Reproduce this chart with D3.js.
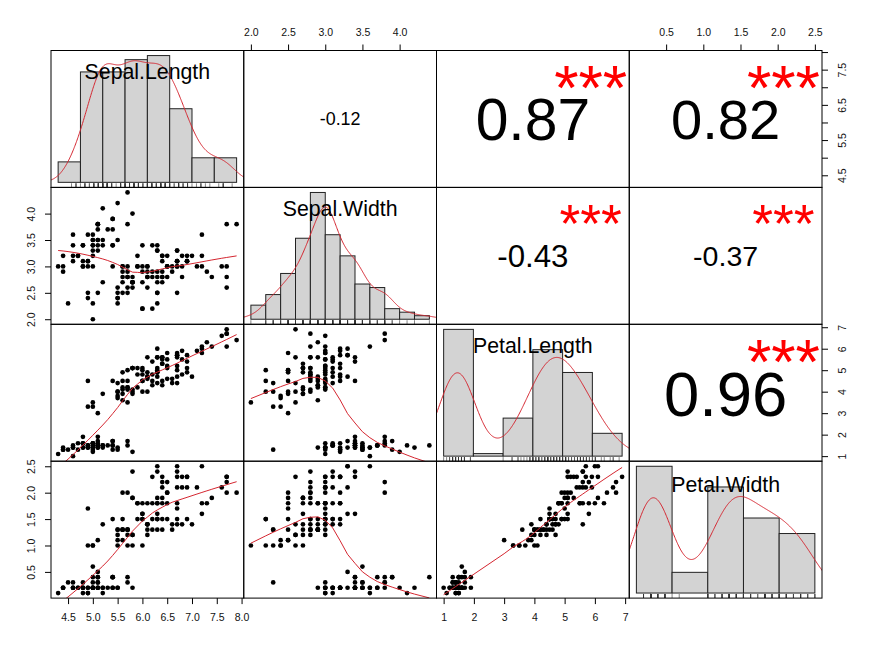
<!DOCTYPE html>
<html>
<head>
<meta charset="utf-8">
<script src="https://cdn.jsdelivr.net/npm/d3@7"></script>
<style>
  body { margin: 0; background: #fff; }
  text { font-family: "Liberation Sans", Arial, Helvetica, sans-serif; }
</style>
</head>
<body>
<div class="canva"></div>
<script>
// iris measurements (setosa, versicolor, virginica - 50 rows each)
const varNames = ["Sepal.Length", "Sepal.Width", "Petal.Length", "Petal.Width"];

const sepalLength = [
  5.1,4.9,4.7,4.6,5.0,5.4,4.6,5.0,4.4,4.9, 5.4,4.8,4.8,4.3,5.8,5.7,5.4,5.1,5.7,5.1,
  5.4,5.1,4.6,5.1,4.8,5.0,5.0,5.2,5.2,4.7, 4.8,5.4,5.2,5.5,4.9,5.0,5.5,4.9,4.4,5.1,
  5.0,4.5,4.4,5.0,5.1,4.8,5.1,4.6,5.3,5.0,
  7.0,6.4,6.9,5.5,6.5,5.7,6.3,4.9,6.6,5.2, 5.0,5.9,6.0,6.1,5.6,6.7,5.6,5.8,6.2,5.6,
  5.9,6.1,6.3,6.1,6.4,6.6,6.8,6.7,6.0,5.7, 5.5,5.5,5.8,6.0,5.4,6.0,6.7,6.3,5.6,5.5,
  5.5,6.1,5.8,5.0,5.6,5.7,5.7,6.2,5.1,5.7,
  6.3,5.8,7.1,6.3,6.5,7.6,4.9,7.3,6.7,7.2, 6.5,6.4,6.8,5.7,5.8,6.4,6.5,7.7,7.7,6.0,
  6.9,5.6,7.7,6.3,6.7,7.2,6.2,6.1,6.4,7.2, 7.4,7.9,6.4,6.3,6.1,7.7,6.3,6.4,6.0,6.9,
  6.7,6.9,5.8,6.8,6.7,6.7,6.3,6.5,6.2,5.9
];
const sepalWidth = [
  3.5,3.0,3.2,3.1,3.6,3.9,3.4,3.4,2.9,3.1, 3.7,3.4,3.0,3.0,4.0,4.4,3.9,3.5,3.8,3.8,
  3.4,3.7,3.6,3.3,3.4,3.0,3.4,3.5,3.4,3.2, 3.1,3.4,4.1,4.2,3.1,3.2,3.5,3.6,3.0,3.4,
  3.5,2.3,3.2,3.5,3.8,3.0,3.8,3.2,3.7,3.3,
  3.2,3.2,3.1,2.3,2.8,2.8,3.3,2.4,2.9,2.7, 2.0,3.0,2.2,2.9,2.9,3.1,3.0,2.7,2.2,2.5,
  3.2,2.8,2.5,2.8,2.9,3.0,2.8,3.0,2.9,2.6, 2.4,2.4,2.7,2.7,3.0,3.4,3.1,2.3,3.0,2.5,
  2.6,3.0,2.6,2.3,2.7,3.0,2.9,2.9,2.5,2.8,
  3.3,2.7,3.0,2.9,3.0,3.0,2.5,2.9,2.5,3.6, 3.2,2.7,3.0,2.5,2.8,3.2,3.0,3.8,2.6,2.2,
  3.2,2.8,2.8,2.7,3.3,3.2,2.8,3.0,2.8,3.0, 2.8,3.8,2.8,2.8,2.6,3.0,3.4,3.1,3.0,3.1,
  3.1,3.1,2.7,3.2,3.3,3.0,2.5,3.0,3.4,3.0
];
const petalLength = [
  1.4,1.4,1.3,1.5,1.4,1.7,1.4,1.5,1.4,1.5, 1.5,1.6,1.4,1.1,1.2,1.5,1.3,1.4,1.7,1.5,
  1.7,1.5,1.0,1.7,1.9,1.6,1.6,1.5,1.4,1.6, 1.6,1.5,1.5,1.4,1.5,1.2,1.3,1.4,1.3,1.5,
  1.3,1.3,1.3,1.6,1.9,1.4,1.6,1.4,1.5,1.4,
  4.7,4.5,4.9,4.0,4.6,4.5,4.7,3.3,4.6,3.9, 3.5,4.2,4.0,4.7,3.6,4.4,4.5,4.1,4.5,3.9,
  4.8,4.0,4.9,4.7,4.3,4.4,4.8,5.0,4.5,3.5, 3.8,3.7,3.9,5.1,4.5,4.5,4.7,4.4,4.1,4.0,
  4.4,4.6,4.0,3.3,4.2,4.2,4.2,4.3,3.0,4.1,
  6.0,5.1,5.9,5.6,5.8,6.6,4.5,6.3,5.8,6.1, 5.1,5.3,5.5,5.0,5.1,5.3,5.5,6.7,6.9,5.0,
  5.7,4.9,6.7,4.9,5.7,6.0,4.8,4.9,5.6,5.8, 6.1,6.4,5.6,5.1,5.6,6.1,5.6,5.5,4.8,5.4,
  5.6,5.1,5.1,5.9,5.7,5.2,5.0,5.2,5.4,5.1
];
const petalWidth = [
  0.2,0.2,0.2,0.2,0.2,0.4,0.3,0.2,0.2,0.1, 0.2,0.2,0.1,0.1,0.2,0.4,0.4,0.3,0.3,0.3,
  0.2,0.4,0.2,0.5,0.2,0.2,0.4,0.2,0.2,0.2, 0.2,0.4,0.1,0.2,0.2,0.2,0.2,0.1,0.2,0.2,
  0.3,0.3,0.2,0.6,0.4,0.3,0.2,0.2,0.2,0.2,
  1.4,1.5,1.5,1.3,1.5,1.3,1.6,1.0,1.3,1.4, 1.0,1.5,1.0,1.4,1.3,1.4,1.5,1.0,1.5,1.1,
  1.8,1.3,1.5,1.2,1.3,1.4,1.4,1.7,1.5,1.0, 1.1,1.0,1.2,1.6,1.5,1.6,1.5,1.3,1.3,1.3,
  1.2,1.4,1.2,1.0,1.3,1.2,1.3,1.3,1.1,1.3,
  2.5,1.9,2.1,1.8,2.2,2.1,1.7,1.8,1.8,2.5, 2.0,1.9,2.1,2.0,2.4,2.3,1.8,2.2,2.3,1.5,
  2.3,2.0,2.0,1.8,2.1,1.8,1.8,1.8,2.1,1.6, 1.9,2.0,2.2,1.5,1.4,2.3,2.4,1.8,1.8,2.1,
  2.4,2.3,1.9,2.3,2.5,2.3,1.9,2.0,2.3,1.8
];
const columns = [sepalLength, sepalWidth, petalLength, petalWidth];

// histogram breaks (Freedman-Diaconis, as drawn)
const histBreaks = [
  [4.0, 4.5, 5.0, 5.5, 6.0, 6.5, 7.0, 7.5, 8.0],
  [2.0, 2.2, 2.4, 2.6, 2.8, 3.0, 3.2, 3.4, 3.6, 3.8, 4.0, 4.2, 4.4],
  [1, 2, 3, 4, 5, 6, 7],
  [0.0, 0.5, 1.0, 1.5, 2.0, 2.5]
];

// axis ticks and the labels that are printed
const axisTicks = [
  [4.5, 5.0, 5.5, 6.0, 6.5, 7.0, 7.5, 8.0],
  [2.0, 2.5, 3.0, 3.5, 4.0],
  [1, 2, 3, 4, 5, 6, 7],
  [0.5, 1.0, 1.5, 2.0, 2.5]
];
const tickDecimals = [1, 1, 0, 1];
const sepalLengthRightLabels = [4.5, 5.5, 6.5, 7.5];

// significance stars for the upper panels, order: (1,2) (1,3) (1,4) (2,3) (2,4) (3,4)
const upperPairs = [[0, 1], [0, 2], [0, 3], [1, 2], [1, 3], [2, 3]];
const corStars = ["", "***", "***", "***", "***", "***"];

// layout
const W = 873, H = 649;
const padLeft = 51, padTop = 50.5, pw = 192.75, ph = 136.9;
const nv = varNames.length;

const svg = d3.select(".canva").append("svg")
  .attr("width", W)
  .attr("height", H);

function ext(lo, hi) {
  const d = (hi - lo) * 0.04;
  return [lo - d, hi + d];
}
const ranges = columns.map(v => ext(d3.min(v), d3.max(v)));

function xScale(v, col) {
  return d3.scaleLinear().domain(ranges[v]).range([padLeft + col * pw, padLeft + (col + 1) * pw]);
}
function yScale(v, row) {
  return d3.scaleLinear().domain(ranges[v]).range([padTop + (row + 1) * ph, padTop + row * ph]);
}

// ---- stats helpers ----
function lowest(x, y, n, xs, nleft, nright, w, userw, rw) {
  const range = x[n - 1] - x[0];
  const h = Math.max(xs - x[nleft], x[nright] - xs);
  const h9 = 0.999 * h, h1 = 0.001 * h;
  let a = 0, j = nleft;
  while (j < n) {
    w[j] = 0;
    const r = Math.abs(x[j] - xs);
    if (r <= h9) {
      if (r <= h1) w[j] = 1;
      else w[j] = Math.pow(1 - Math.pow(r / h, 3), 3);
      if (userw) w[j] *= rw[j];
      a += w[j];
    } else if (x[j] > xs) break;
    j++;
  }
  const nrt = j - 1;
  if (a <= 0) return null;
  for (j = nleft; j <= nrt; j++) w[j] /= a;
  if (h > 0) {
    a = 0;
    for (j = nleft; j <= nrt; j++) a += w[j] * x[j];
    let b = xs - a, c = 0;
    for (j = nleft; j <= nrt; j++) c += w[j] * (x[j] - a) * (x[j] - a);
    if (Math.sqrt(c) > 0.001 * range) {
      b /= c;
      for (j = nleft; j <= nrt; j++) w[j] *= (b * (x[j] - a) + 1);
    }
  }
  let out = 0;
  for (j = nleft; j <= nrt; j++) out += w[j] * y[j];
  return out;
}

// same smoother as R's lowess(f = 2/3, iter = 3)
function lowess(xIn, yIn, f, nsteps) {
  const order = d3.range(xIn.length).sort((a, b) => xIn[a] - xIn[b]);
  const x = order.map(i => xIn[i]), y = order.map(i => yIn[i]);
  const n = x.length;
  const delta = 0.01 * (x[n - 1] - x[0]);
  const ns = Math.max(2, Math.min(n, Math.floor(f * n + 1e-7)));
  const ys = new Array(n).fill(0), rw = new Array(n).fill(1);
  const res = new Array(n).fill(0), w = new Array(n).fill(0);
  for (let iter = 1; iter <= nsteps + 1; iter++) {
    let nleft = 0, nright = ns - 1, last = -1, i = 0;
    for (;;) {
      if (nright < n - 1) {
        const d1 = x[i] - x[nleft], d2 = x[nright + 1] - x[i];
        if (d1 > d2) { nleft++; nright++; continue; }
      }
      const fit = lowest(x, y, n, x[i], nleft, nright, w, iter > 1, rw);
      ys[i] = fit === null ? y[i] : fit;
      if (last < i - 1) {
        const denom = x[i] - x[last];
        for (let j = last + 1; j < i; j++) {
          const alpha = (x[j] - x[last]) / denom;
          ys[j] = alpha * ys[i] + (1 - alpha) * ys[last];
        }
      }
      last = i;
      const cut = x[last] + delta;
      for (i = last + 1; i < n; i++) {
        if (x[i] > cut) break;
        if (x[i] === x[last]) { ys[i] = ys[last]; last = i; }
      }
      i = Math.max(last + 1, i - 1);
      if (last >= n - 1) break;
    }
    for (let k = 0; k < n; k++) res[k] = y[k] - ys[k];
    if (iter > nsteps) break;
    const sc = d3.sum(res, r => Math.abs(r)) / n;
    const s = res.map(Math.abs).sort(d3.ascending);
    const m1 = Math.floor(n / 2);
    const cmad = n % 2 === 0 ? 3 * (s[m1] + s[n - m1 - 1]) : 6 * s[m1];
    if (cmad < 1e-7 * sc) break;
    const c9 = 0.999 * cmad, c1 = 0.001 * cmad;
    for (let k = 0; k < n; k++) {
      const r = Math.abs(res[k]);
      rw[k] = r <= c1 ? 1 : (r <= c9 ? Math.pow(1 - Math.pow(r / cmad, 2), 2) : 0);
    }
  }
  return x.map((xv, k) => [xv, ys[k]]);
}

// gaussian kernel density, bw.nrd0
function density(v) {
  const n = v.length;
  const s = v.slice().sort(d3.ascending);
  const iqr = d3.quantileSorted(s, 0.75) - d3.quantileSorted(s, 0.25);
  const bw = 0.9 * Math.min(d3.deviation(v), iqr / 1.34) * Math.pow(n, -0.2);
  const lo = s[0] - 3 * bw, hi = s[n - 1] + 3 * bw;
  return d3.range(512).map(k => {
    const xv = lo + (hi - lo) * k / 511;
    const d = d3.sum(v, vi => Math.exp(-0.5 * Math.pow((xv - vi) / bw, 2))) / (n * bw * Math.sqrt(2 * Math.PI));
    return [xv, d];
  });
}

function histogram(v, breaks) {
  const fuzz = 1e-7 * d3.median(d3.pairs(breaks, (a, b) => b - a));
  const b2 = breaks.map((b, k) => k === 0 ? b - fuzz : b + fuzz);
  const counts = new Array(breaks.length - 1).fill(0);
  v.forEach(x => {
    for (let k = 0; k < counts.length; k++) {
      if (x > b2[k] && x <= b2[k + 1]) { counts[k]++; break; }
    }
  });
  return counts.map((c, k) => ({
    x0: breaks[k], x1: breaks[k + 1],
    dens: c / (v.length * (breaks[k + 1] - breaks[k]))
  }));
}

function pearson(a, b) {
  const ma = d3.mean(a), mb = d3.mean(b);
  let sab = 0, saa = 0, sbb = 0;
  a.forEach((x, k) => {
    sab += (x - ma) * (b[k] - mb);
    saa += (x - ma) * (x - ma);
    sbb += (b[k] - mb) * (b[k] - mb);
  });
  return sab / Math.sqrt(saa * sbb);
}

// clip paths for each panel
const defs = svg.append("defs");
for (let i = 0; i < nv; i++) {
  for (let j = 0; j < nv; j++) {
    defs.append("clipPath").attr("id", `clip-${i}-${j}`)
      .append("rect")
      .attr("x", padLeft + j * pw).attr("y", padTop + i * ph)
      .attr("width", pw).attr("height", ph);
  }
}

const red = "#d42630";

// measure text width at font-size 100
const measurer = svg.append("text").attr("font-size", 100).attr("x", -1000).attr("y", -1000);
function emWidth(str) {
  measurer.text(str);
  return measurer.node().getComputedTextLength() / 100;
}

// ---- lower panels: scatter + lowess ----
for (let i = 0; i < nv; i++) {
  for (let j = 0; j < i; j++) {
    const xs = xScale(j, j), ys = yScale(i, i);
    const g = svg.append("g").attr("clip-path", `url(#clip-${i}-${j})`);
    const pts = columns[j].map((x, k) => [x, columns[i][k]]);
    g.selectAll("circle")
      .data(pts)
      .enter()
      .append("circle")
      .attr("cx", d => xs(d[0]))
      .attr("cy", d => ys(d[1]))
      .attr("r", 2.35)
      .attr("fill", "#000");
    const smooth = lowess(columns[j], columns[i], 2 / 3, 3);
    g.append("path")
      .datum(smooth)
      .attr("d", d3.line().x(d => xs(d[0])).y(d => ys(d[1])))
      .attr("fill", "none")
      .attr("stroke", red)
      .attr("stroke-width", 1);
  }
}

// ---- diagonal: histogram, density, rug, name ----
for (let i = 0; i < nv; i++) {
  const v = columns[i];
  const brk = histBreaks[i];
  const bins = histogram(v, brk);
  const xs = d3.scaleLinear().domain(ext(brk[0], brk[brk.length - 1]))
    .range([padLeft + i * pw, padLeft + (i + 1) * pw]);
  const maxD = d3.max(bins, b => b.dens);
  const ys = d3.scaleLinear().domain(ext(0, maxD))
    .range([padTop + (i + 1) * ph, padTop + i * ph]);
  const g = svg.append("g").attr("clip-path", `url(#clip-${i}-${i})`);

  g.selectAll("rect")
    .data(bins)
    .enter()
    .append("rect")
    .attr("x", d => xs(d.x0))
    .attr("y", d => ys(d.dens))
    .attr("width", d => xs(d.x1) - xs(d.x0))
    .attr("height", d => ys(0) - ys(d.dens))
    .attr("fill", "#d3d3d3")
    .attr("stroke", "#222")
    .attr("stroke-width", 1);

  g.append("path")
    .datum(density(v))
    .attr("d", d3.line().x(d => xs(d[0])).y(d => ys(d[1])))
    .attr("fill", "none")
    .attr("stroke", red)
    .attr("stroke-width", 1);

  // rug
  const yb = padTop + (i + 1) * ph;
  g.selectAll("line.rug")
    .data(v)
    .enter()
    .append("line")
    .attr("class", "rug")
    .attr("x1", d => xs(d)).attr("x2", d => xs(d))
    .attr("y1", yb).attr("y2", yb - 0.03 * ph)
    .attr("stroke", "#333")
    .attr("stroke-width", 0.6);

  // variable name, glyph box centred at 5/6 of panel height
  const name = varNames[i];
  const fs = 21.3;
  const off = /[gjpqy]/.test(name) ? 0.26 : 0.365;
  svg.append("text")
    .attr("x", padLeft + (i + 0.5) * pw)
    .attr("y", padTop + (i + 1) * ph - 0.8333 * ph + off * fs)
    .attr("text-anchor", "middle")
    .attr("font-size", fs)
    .attr("fill", "#000")
    .text(name);
}

// ---- upper panels: correlation ----
// star size = K / width(txt), number size = star size * (|r| + 0.3) / 1.3
const K = 127;
upperPairs.forEach((p, k) => {
  const i = p[0], j = p[1];
  const r = pearson(columns[i], columns[j]);
  const txt = r.toFixed(2);
  const cex = K / emWidth(txt);
  const fs = cex * (Math.abs(r) + 0.3) / 1.3;
  const x0 = padLeft + j * pw, y0 = padTop + i * ph;
  svg.append("text")
    .attr("x", x0 + 0.5 * pw)
    .attr("y", y0 + 0.5 * ph + 0.36 * fs)
    .attr("text-anchor", "middle")
    .attr("font-size", fs)
    .attr("fill", "#000")
    .text(txt);
  if (corStars[k]) {
    const sf = cex * 0.96;
    svg.append("text")
      .attr("x", x0 + 0.8 * pw)
      .attr("y", y0 + 0.2 * ph + 0.5 * sf)
      .attr("text-anchor", "middle")
      .attr("font-size", sf)
      .attr("fill", "#ff0000")
      .text(corStars[k]);
  }
});
measurer.remove();

// ---- panel boxes ----
for (let i = 0; i < nv; i++) {
  for (let j = 0; j < nv; j++) {
    svg.append("rect")
      .attr("x", padLeft + j * pw).attr("y", padTop + i * ph)
      .attr("width", pw).attr("height", ph)
      .attr("fill", "none")
      .attr("stroke", "#000")
      .attr("stroke-width", 1);
  }
}

// ---- outer axes ----
function fmt(v) {
  return d => d.toFixed(tickDecimals[v]);
}
function styleAxis(g) {
  g.select(".domain").remove();
  g.selectAll(".tick line").attr("stroke", "#000");
  g.selectAll(".tick text")
    .attr("fill", "#111")
    .attr("font-size", 10.5)
    .attr("font-family", "Liberation Sans, Arial, sans-serif");
}

for (let j = 0; j < nv; j++) {
  const xs = xScale(j, j);
  if (j % 2 === 0) {
    svg.append("g")
      .attr("transform", `translate(0,${padTop + nv * ph})`)
      .call(d3.axisBottom(xs).tickValues(axisTicks[j]).tickFormat(fmt(j)).tickSize(6).tickPadding(9))
      .call(styleAxis);
  } else {
    svg.append("g")
      .attr("transform", `translate(0,${padTop})`)
      .call(d3.axisTop(xs).tickValues(axisTicks[j]).tickFormat(fmt(j)).tickSize(6).tickPadding(9))
      .call(styleAxis);
  }
}

for (let i = 0; i < nv; i++) {
  const ys = yScale(i, i);
  if (i % 2 === 1) {
    const g = svg.append("g")
      .attr("transform", `translate(${padLeft},0)`)
      .call(d3.axisLeft(ys).tickValues(axisTicks[i]).tickFormat(fmt(i)).tickSize(6))
      .call(styleAxis);
    g.selectAll(".tick text")
      .attr("x", 0).attr("y", -15.6).attr("dy", null)
      .attr("text-anchor", "middle")
      .attr("transform", "rotate(-90)");
  } else {
    const shown = i === 0 ? sepalLengthRightLabels : axisTicks[i];
    const g = svg.append("g")
      .attr("transform", `translate(${padLeft + nv * pw},0)`)
      .call(d3.axisRight(ys).tickValues(axisTicks[i])
        .tickFormat(d => shown.includes(d) ? d.toFixed(tickDecimals[i]) : "")
        .tickSize(6))
      .call(styleAxis);
    g.selectAll(".tick text")
      .attr("x", 0).attr("y", 23.8).attr("dy", null)
      .attr("text-anchor", "middle")
      .attr("transform", "rotate(-90)");
  }
}
</script>
</body>
</html>
